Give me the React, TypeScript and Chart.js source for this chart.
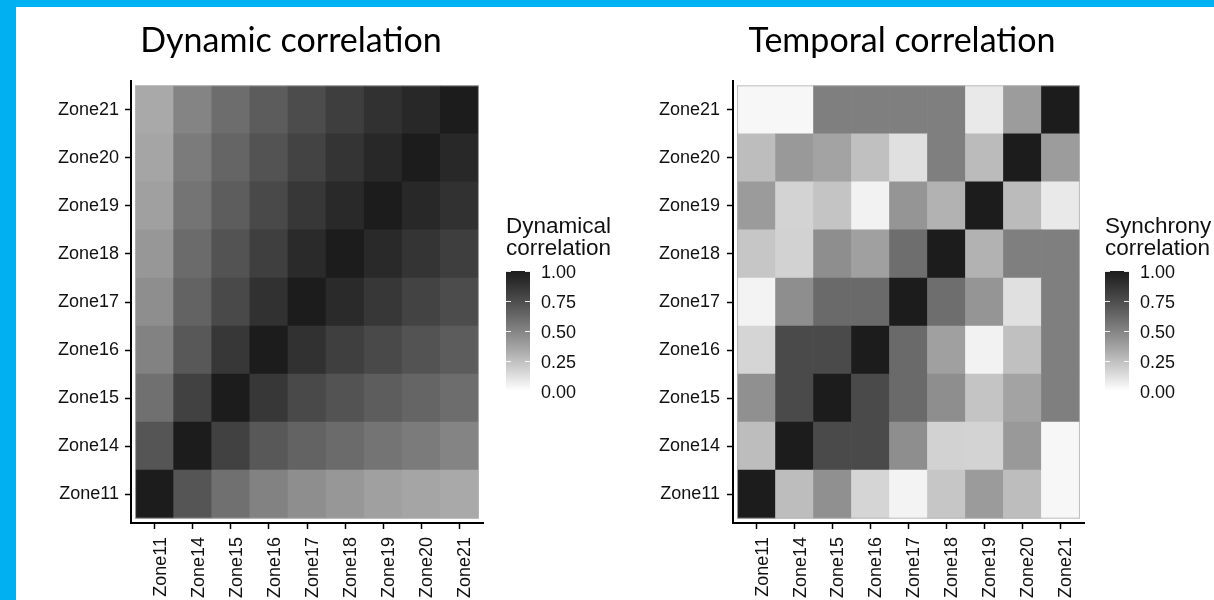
import React, { useEffect, useRef } from 'react';
import { Chart, registerables } from 'chart.js';

Chart.register(...registerables);

// ---------- data ----------
const zones = ['Zone11', 'Zone14', 'Zone15', 'Zone16', 'Zone17', 'Zone18', 'Zone19', 'Zone20', 'Zone21'];

// rows: Zone11 (bottom) .. Zone21 (top); columns: Zone11 .. Zone21
const dynamicCorrelation = [
  [1.0, 0.71, 0.59, 0.51, 0.455, 0.42, 0.38, 0.36, 0.345],
  [0.71, 1.0, 0.81, 0.7, 0.645, 0.61, 0.57, 0.54, 0.5],
  [0.59, 0.81, 1.0, 0.86, 0.77, 0.72, 0.675, 0.64, 0.6],
  [0.51, 0.7, 0.86, 1.0, 0.89, 0.82, 0.77, 0.72, 0.68],
  [0.455, 0.645, 0.77, 0.89, 1.0, 0.925, 0.86, 0.8, 0.755],
  [0.42, 0.61, 0.72, 0.82, 0.925, 1.0, 0.93, 0.873, 0.825],
  [0.38, 0.57, 0.675, 0.77, 0.86, 0.93, 1.0, 0.935, 0.89],
  [0.36, 0.54, 0.64, 0.72, 0.8, 0.873, 0.935, 1.0, 0.935],
  [0.345, 0.5, 0.6, 0.68, 0.755, 0.825, 0.89, 0.935, 1.0],
];

const temporalCorrelation = [
  [1.0, 0.26, 0.45, 0.165, 0.045, 0.225, 0.4, 0.26, 0.03],
  [0.26, 1.0, 0.765, 0.765, 0.457, 0.176, 0.172, 0.41, 0.03],
  [0.45, 0.765, 1.0, 0.765, 0.615, 0.457, 0.232, 0.367, 0.52],
  [0.165, 0.765, 0.765, 1.0, 0.615, 0.38, 0.05, 0.249, 0.52],
  [0.045, 0.457, 0.615, 0.615, 1.0, 0.597, 0.427, 0.121, 0.52],
  [0.225, 0.176, 0.457, 0.38, 0.597, 1.0, 0.306, 0.52, 0.52],
  [0.4, 0.172, 0.232, 0.05, 0.427, 0.306, 1.0, 0.269, 0.085],
  [0.26, 0.41, 0.367, 0.249, 0.121, 0.52, 0.269, 1.0, 0.397],
  [0.03, 0.03, 0.52, 0.52, 0.52, 0.52, 0.085, 0.397, 1.0],
];

const legendBreaks = [0, 0.25, 0.5, 0.75, 1];
const legendLabels = ['0.00', '0.25', '0.50', '0.75', '1.00'];

// ---------- styling ----------
const AXIS_FONT = '"Liberation Sans", Arial, Helvetica, sans-serif';
const TITLE_FONT = 'Lato, "Open Sans", sans-serif';
const TEXT_COLOR = '#111111';

// Lab-lightness interpolation (white -> grey10), like ggplot's gradient
function fillFor(v: number): string {
  const L = 100 - v * (100 - 10.3);
  const fy = (L + 16) / 116;
  const Y = L > 8 ? fy * fy * fy : L / 903.3;
  const c = Y <= 0.0031308 ? 12.92 * Y : 1.055 * Math.pow(Y, 1 / 2.4) - 0.055;
  const g = Math.round(Math.max(0, Math.min(1, c)) * 255);
  return `rgb(${g},${g},${g})`;
}

type PanelCfg = {
  title: string;
  titleX: number;
  legendTitle: string[];
  yAxisWidth: number;
  yPad: number;
  rightPad: number;
  legendX: number;
};

const CANVAS_W = 599;
const CANVAS_H = 593;

function makeDecorPlugin(cfg: PanelCfg) {
  return {
    id: 'decor',
    afterDraw(chart: any) {
      const ctx: CanvasRenderingContext2D = chart.ctx;
      const xs = chart.scales.x;
      const ys = chart.scales.y;
      ctx.save();
      // faint outline around the tiles
      const tx0 = xs.getPixelForValue(0);
      const tx1 = xs.getPixelForValue(zones.length);
      const ty0 = ys.getPixelForValue(zones.length);
      const ty1 = ys.getPixelForValue(0);
      ctx.strokeStyle = 'rgba(175,175,175,0.8)';
      ctx.lineWidth = 1;
      ctx.strokeRect(tx0, ty0, tx1 - tx0, ty1 - ty0);

      // title
      ctx.fillStyle = '#000';
      ctx.font = `34px ${TITLE_FONT}`;
      ctx.textAlign = 'center';
      ctx.textBaseline = 'alphabetic';
      ctx.fillText(cfg.title, cfg.titleX, 45);

      // legend title
      ctx.fillStyle = TEXT_COLOR;
      ctx.font = `22.5px ${AXIS_FONT}`;
      ctx.textAlign = 'left';
      ctx.textBaseline = 'middle';
      cfg.legendTitle.forEach((t, i) => ctx.fillText(t, cfg.legendX, 220 + i * 22));

      // colour bar
      const bx = cfg.legendX;
      const bw = 24;
      const bTop = 264;
      const bBot = 384;
      const grad = ctx.createLinearGradient(0, bBot, 0, bTop);
      for (let i = 0; i <= 40; i++) {
        const v = i / 40;
        grad.addColorStop(v, fillFor(v));
      }
      ctx.fillStyle = grad;
      ctx.fillRect(bx, bTop, bw, bBot - bTop);

      // white ticks on the bar
      ctx.strokeStyle = 'rgba(255,255,255,0.9)';
      ctx.lineWidth = 1;
      legendBreaks.forEach((b) => {
        const y = Math.round(bBot - b * (bBot - bTop)) + 0.5;
        ctx.beginPath();
        ctx.moveTo(bx, y);
        ctx.lineTo(bx + 5, y);
        ctx.moveTo(bx + bw - 5, y);
        ctx.lineTo(bx + bw, y);
        ctx.stroke();
      });

      // labels
      ctx.fillStyle = TEXT_COLOR;
      ctx.font = `18px ${AXIS_FONT}`;
      ctx.textAlign = 'left';
      ctx.textBaseline = 'middle';
      legendBreaks.forEach((b, i) => {
        ctx.fillText(legendLabels[i], bx + 35, bBot - b * (bBot - bTop) + 2);
      });
      ctx.restore();
    },
  };
}

function Heatmap({ matrix, cfg }: { matrix: number[][]; cfg: PanelCfg }) {
  const ref = useRef<HTMLCanvasElement | null>(null);
  useEffect(() => {
    if (!ref.current) return;
    const tickFont = { family: AXIS_FONT, size: 18 };
    const gridCfg = {
      display: true,
      offset: false,
      drawOnChartArea: false,
      drawTicks: true,
      tickLength: 6,
      tickColor: '#000',
      tickWidth: 1.5,
    };
    const borderCfg = { display: true, color: '#000', width: 2 };
    const chart = new Chart(ref.current, {
      type: 'bar',
      data: {
        datasets: matrix.map((row, r) => ({
          label: zones[r],
          data: row.map((_v, c) => ({ x: c + 0.5, y: 1 })),
          backgroundColor: row.map(fillFor),
          borderWidth: 0,
          barPercentage: 1,
          categoryPercentage: 1,
        })),
      },
      options: {
        responsive: false,
        animation: false,
        devicePixelRatio: 1,
        events: [],
        layout: { padding: { left: 0, right: cfg.rightPad, top: 74, bottom: 0 } },
        plugins: {
          legend: { display: false },
          title: { display: false },
          tooltip: { enabled: false },
        },
        scales: {
          x: {
            type: 'linear',
            offset: false,
            min: -0.12,
            max: 9.12,
            stacked: true,
            afterBuildTicks: (s: any) => {
              s.ticks = zones.map((_z, i) => ({ value: i + 0.5 }));
            },
            afterFit: (s: any) => {
              s.height = 77;
            },
            ticks: {
              autoSkip: false,
              minRotation: 90,
              maxRotation: 90,
              padding: 8,
              labelOffset: 6,
              font: tickFont,
              color: TEXT_COLOR,
              callback: (_v: any, i: number) => zones[i],
            },
            grid: gridCfg,
            border: borderCfg,
          },
          y: {
            type: 'linear',
            offset: false,
            min: -0.1,
            max: 9.1,
            stacked: true,
            afterBuildTicks: (s: any) => {
              s.ticks = zones.map((_z, i) => ({ value: i + 0.5 }));
            },
            afterFit: (s: any) => {
              s.width = cfg.yAxisWidth;
            },
            ticks: {
              autoSkip: false,
              padding: cfg.yPad,
              font: tickFont,
              color: TEXT_COLOR,
              callback: (_v: any, i: number) => zones[i],
            },
            grid: gridCfg,
            border: borderCfg,
          },
        },
      } as any,
      plugins: [makeDecorPlugin(cfg)],
    });
    return () => chart.destroy();
  }, [matrix, cfg]);
  return <canvas ref={ref} width={CANVAS_W} height={CANVAS_H} style={{ display: 'block' }} />;
}

const leftCfg: PanelCfg = {
  title: 'Dynamic correlation',
  titleX: 275,
  legendTitle: ['Dynamical', 'correlation'],
  yAxisWidth: 115,
  yPad: 6,
  rightPad: 132,
  legendX: 490,
};

const rightCfg: PanelCfg = {
  title: 'Temporal correlation',
  titleX: 287,
  legendTitle: ['Synchrony', 'correlation'],
  yAxisWidth: 118,
  yPad: 7,
  rightPad: 130,
  legendX: 490,
};

export default function App() {
  return (
    <div
      style={{
        position: 'absolute',
        left: 0,
        top: 0,
        width: 1214,
        height: 600,
        background: '#00B0F0',
        overflow: 'hidden',
      }}
    >
      <div style={{ position: 'absolute', left: 16, top: 7, right: 0, bottom: 0, background: '#ffffff' }} />
      <div style={{ position: 'absolute', left: 16, top: 7, width: CANVAS_W, height: CANVAS_H }}>
        <Heatmap matrix={dynamicCorrelation} cfg={leftCfg} />
      </div>
      <div style={{ position: 'absolute', left: 615, top: 7, width: CANVAS_W, height: CANVAS_H }}>
        <Heatmap matrix={temporalCorrelation} cfg={rightCfg} />
      </div>
    </div>
  );
}
